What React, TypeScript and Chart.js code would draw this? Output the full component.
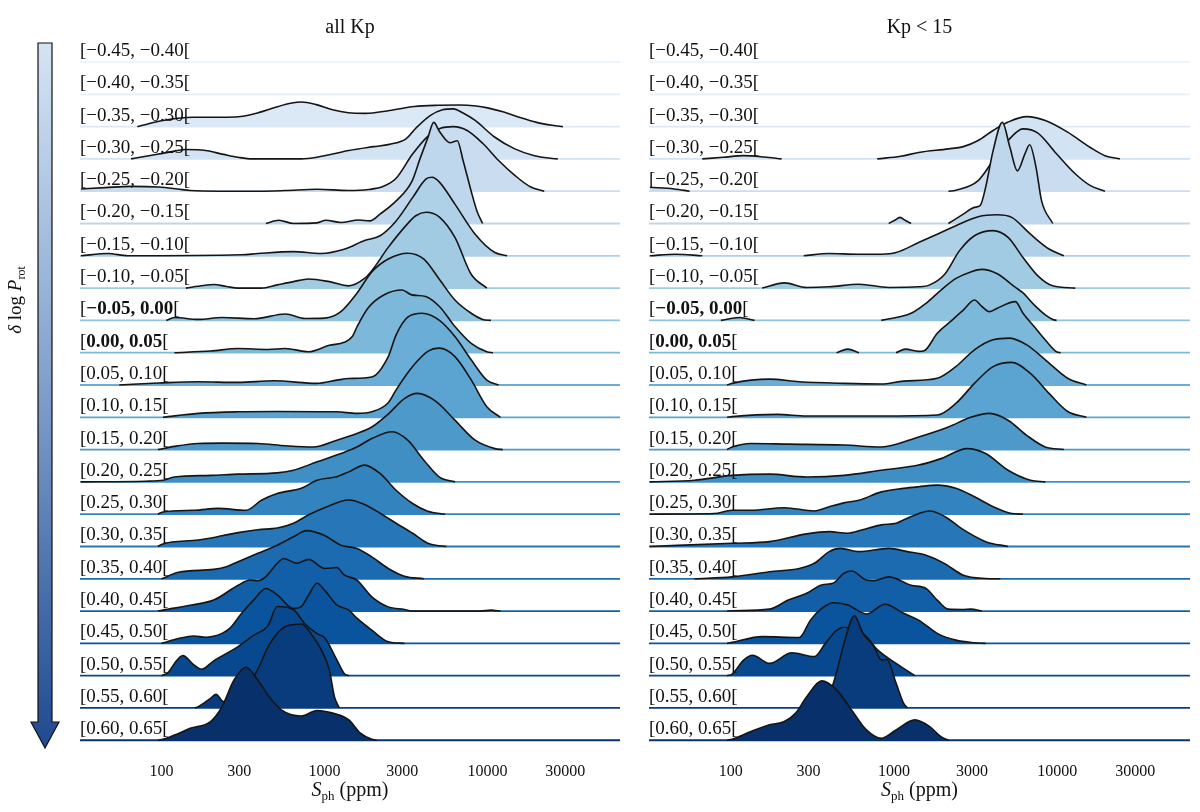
import { useEffect, useRef } from 'react';
import { Chart, registerables } from 'chart.js';

Chart.register(...registerables);

const FONT = '"Liberation Serif", "DejaVu Serif", serif';
const INK = '#111111';

// one row per bin of delta log Prot, top to bottom
const ROW_LABELS = [
  '[−0.45, −0.40[', '[−0.40, −0.35[', '[−0.35, −0.30[', '[−0.30, −0.25[',
  '[−0.25, −0.20[', '[−0.20, −0.15[', '[−0.15, −0.10[', '[−0.10, −0.05[',
  '[−0.05, 0.00[', '[0.00, 0.05[', '[0.05, 0.10[', '[0.10, 0.15[',
  '[0.15, 0.20[', '[0.20, 0.25[', '[0.25, 0.30[', '[0.30, 0.35[',
  '[0.35, 0.40[', '[0.40, 0.45[', '[0.45, 0.50[', '[0.50, 0.55[',
  '[0.55, 0.60[', '[0.60, 0.65[',
];
const BOLD_ROWS = [8, 9];
const X_TICKS = [100, 300, 1000, 3000, 10000, 30000];
const S_MIN = 31.6;
const S_MAX = 65000;

// density curves: [S_ph in ppm, height in row units], null = gap
type Pt = [number, number | null];

const ALL_KP_ROWS: Pt[][] = [
  [],
  [],
  [[71, 0], [79, 0.06], [100, 0.18], [126, 0.26], [158, 0.29], [200, 0.29], [251, 0.29], [316, 0.32], [398, 0.44], [501, 0.6], [631, 0.73], [720, 0.76], [890, 0.68], [1120, 0.52], [1400, 0.43], [1780, 0.41], [2510, 0.5], [3550, 0.62], [5010, 0.66], [6700, 0.67], [8500, 0.64], [10000, 0.58], [12600, 0.45], [15800, 0.28], [20000, 0.13], [25000, 0.04], [29000, 0]],
  [[65, 0], [80, 0.08], [96, 0.15], [120, 0.24], [141, 0.29], [186, 0.26], [240, 0.14], [295, 0.05], [360, 0], [720, 0], [900, 0.05], [1120, 0.15], [1410, 0.26], [2000, 0.38], [2500, 0.45], [3160, 0.62], [3630, 0.95], [4470, 1.35], [5300, 1.52], [6170, 1.55], [7080, 1.42], [8400, 1.19], [11100, 0.67], [14700, 0.31], [19400, 0.1], [24300, 0.02], [27000, 0]],
  [[32, 0.07], [45, 0.11], [65, 0.15], [96, 0.13], [125, 0.07], [150, 0.02], [222, 0], [400, 0], [575, 0.02], [900, 0.06], [1400, 0.02], [1860, 0.05], [2300, 0.15], [2750, 0.4], [3470, 1.15], [4300, 1.7], [5100, 1.94], [6170, 2.0], [7500, 1.88], [9400, 1.47], [11700, 0.95], [14700, 0.49], [18400, 0.13], [22300, 0]],
  [[437, 0], [525, 0.1], [645, 0], [900, 0.02], [1020, 0.1], [1260, 0.03], [1620, 0.11], [1900, 0.08], [2190, 0.29], [2750, 0.7], [3450, 1.32], [3850, 2.0], [4300, 2.65], [4680, 3.13], [5070, 2.85], [5890, 2.5], [6530, 2.56], [7080, 1.95], [7940, 1.0], [8610, 0.39], [9330, 0]],
  [[32, 0], [47, 0.07], [62, 0], [310, 0.03], [390, 0.07], [645, 0.13], [950, 0.07], [1320, 0.2], [1760, 0.47], [2190, 0.62], [2750, 1.08], [3470, 1.8], [4200, 2.38], [4570, 2.43], [5070, 2.28], [6310, 1.6], [8400, 0.67], [11100, 0.1], [13200, 0]],
  [[141, 0], [180, 0.08], [209, 0.11], [250, 0.05], [295, 0], [410, 0], [513, 0.1], [645, 0.2], [800, 0.28], [1070, 0.2], [1410, 0.07], [1760, 0.3], [1950, 0.54], [2460, 1.26], [3090, 1.88], [3630, 2.24], [4200, 2.35], [5070, 2.2], [6310, 1.57], [7940, 0.43], [9900, 0]],
  [[107, 0], [120, 0.09], [168, 0.03], [235, 0.09], [370, 0.05], [575, 0.2], [760, 0.06], [1000, 0.07], [1260, 0.27], [1580, 0.84], [1950, 1.5], [2460, 1.9], [3240, 2.08], [4070, 1.9], [5100, 1.25], [6310, 0.63], [7940, 0.22], [9330, 0.03], [10500, 0]],
  [[120, 0], [200, 0.05], [295, 0.13], [450, 0.1], [575, 0.13], [800, 0.03], [1070, 0.23], [1320, 0.32], [1480, 0.5], [1600, 0.85], [1860, 1.4], [2340, 1.8], [2990, 1.94], [3430, 1.79], [4170, 1.74], [5070, 1.43], [6310, 0.81], [7940, 0.29], [9900, 0.03], [10800, 0]],
  [[55, 0], [96, 0.06], [168, 0.1], [295, 0.08], [490, 0.13], [900, 0.05], [1190, 0.15], [1410, 0.2], [1950, 0.25], [2460, 0.88], [2750, 1.55], [3240, 2.1], [3980, 2.22], [5070, 2.0], [6310, 1.5], [7940, 0.78], [9900, 0.15], [11700, 0]],
  [[102, 0], [168, 0.12], [295, 0.17], [513, 0.18], [1190, 0.17], [1580, 0.12], [1950, 0.17], [2460, 0.45], [2750, 0.85], [3470, 1.57], [4300, 2.04], [5070, 2.14], [6310, 1.88], [7940, 1.16], [9900, 0.33], [12000, 0]],
  [[95, 0], [120, 0.1], [168, 0.19], [235, 0.2], [390, 0.19], [575, 0.12], [850, 0.08], [1190, 0.29], [1580, 0.5], [1950, 0.7], [2460, 1.1], [3090, 1.58], [3720, 1.74], [4800, 1.5], [6310, 0.91], [8400, 0.29], [11100, 0.03], [12400, 0]],
  [[32, 0], [80, 0.02], [102, 0.05], [120, 0.15], [200, 0.2], [295, 0.24], [513, 0.28], [645, 0.36], [900, 0.62], [1260, 0.88], [1580, 1.08], [1950, 1.34], [2600, 1.55], [3240, 1.29], [4070, 0.67], [5070, 0.15], [6310, 0]],
  [[95, 0], [102, 0.07], [160, 0.12], [222, 0.18], [330, 0.12], [410, 0.43], [513, 0.64], [720, 0.8], [900, 1.05], [1190, 1.16], [1410, 1.31], [1760, 1.52], [2190, 1.26], [2750, 0.74], [3470, 0.33], [4300, 0.09], [5500, 0]],
  [[95, 0], [102, 0.08], [168, 0.2], [235, 0.33], [295, 0.43], [390, 0.52], [513, 0.57], [645, 0.72], [800, 0.98], [1000, 1.2], [1410, 1.44], [1760, 1.3], [2190, 1.03], [2750, 0.72], [3470, 0.41], [4300, 0.1], [5070, 0.02], [5600, 0]],
  [[100, 0], [127, 0.2], [209, 0.29], [250, 0.37], [295, 0.53], [390, 0.79], [513, 1.04], [645, 1.3], [775, 1.49], [1000, 1.34], [1260, 1.04], [1580, 0.94], [1950, 0.68], [2460, 0.32], [3090, 0.08], [4070, 0]],
  [[95, 0], [102, 0.03], [150, 0.18], [209, 0.34], [295, 0.8], [350, 0.96], [390, 0.94], [437, 1.07], [513, 1.48], [562, 1.63], [676, 1.48], [800, 1.6], [1000, 1.32], [1190, 1.35], [1320, 1.12], [1580, 0.96], [1950, 0.44], [2460, 0.13], [3090, 0.05], [3470, 0], [9000, 0], [10500, 0.03], [12000, 0]],
  [[100, 0], [127, 0.15], [158, 0.23], [186, 0.19], [235, 0.31], [263, 0.47], [310, 0.93], [367, 1.34], [437, 1.7], [513, 1.5], [645, 1.08], [720, 1.14], [800, 1.5], [900, 1.86], [1000, 1.65], [1190, 1.19], [1410, 1.03], [1580, 0.78], [1950, 0.41], [2460, 0.05], [3090, 0]],
  [[100, 0], [110, 0.1], [120, 0.38], [135, 0.62], [158, 0.33], [176, 0.2], [209, 0.46], [295, 0.9], [367, 1.25], [450, 1.55], [513, 2.14], [645, 2.04], [760, 1.6], [900, 1.3], [1000, 1.18], [1190, 0.49], [1320, 0.07], [1410, 0]],
  [[160, 0], [168, 0.04], [200, 0.3], [216, 0.42], [240, 0.2], [263, 0.22], [330, 0.6], [390, 1.2], [457, 1.95], [575, 2.52], [720, 2.6], [850, 2.21], [955, 1.8], [1070, 1.18], [1150, 0.35], [1230, 0]],
  [[95, 0], [102, 0.03], [120, 0.16], [150, 0.37], [200, 0.58], [235, 1.04], [278, 1.86], [330, 2.26], [390, 1.86], [457, 1.35], [543, 0.94], [720, 0.75], [900, 0.92], [1120, 0.84], [1410, 0.63], [1660, 0.22], [1950, 0.03], [2090, 0]],
];

const KP_LT_15_ROWS: Pt[][] = [
  [],
  [],
  [],
  [[67, 0], [90, 0.05], [120, 0.1], [160, 0.06], [205, 0], [400, null], [790, 0], [1100, 0.08], [1415, 0.2], [2155, 0.31], [2658, 0.38], [3279, 0.57], [4045, 0.88], [4996, 1.14], [6499, 1.31], [8450, 1.19], [11576, 0.83], [15880, 0.36], [19590, 0.1], [24180, 0]],
  [[32, 0.12], [45, 0.07], [56, 0], [300, null], [2155, 0], [2393, 0.03], [3279, 0.33], [4045, 0.95], [4996, 1.57], [6167, 1.93], [7608, 1.8], [9890, 1.16], [12880, 0.54], [15880, 0.18], [19590, 0]],
  [[929, 0], [1010, 0.1], [1088, 0.19], [1170, 0.1], [1273, 0], [1700, null], [2155, 0], [2658, 0.29], [3111, 0.5], [3366, 0.55], [3642, 1.12], [4045, 2.25], [4610, 3.13], [5128, 2.36], [5698, 1.63], [6330, 2.15], [6780, 2.44], [7410, 1.74], [8018, 0.7], [9385, 0]],
  [[32, 0], [46, 0.05], [67, 0], [150, null], [280, 0], [401, 0.07], [600, 0.05], [836, 0.05], [1030, 0.1], [1415, 0.41], [1841, 0.67], [2393, 0.93], [3279, 1.21], [4263, 1.27], [5263, 1.19], [6850, 0.67], [8905, 0.21], [10985, 0]],
  [[156, 0], [213, 0.16], [292, 0.02], [401, 0.04], [610, 0.12], [929, 0.02], [1415, 0.04], [1656, 0.1], [2045, 0.43], [2522, 1.16], [3111, 1.62], [4045, 1.78], [4996, 1.57], [6167, 0.95], [7608, 0.38], [9385, 0.07], [12880, 0]],
  [[87, 0], [113, 0.09], [140, 0], [400, null], [836, 0], [1273, 0.22], [1571, 0.53], [1940, 0.94], [2400, 1.3], [2950, 1.5], [3456, 1.58], [4263, 1.45], [5546, 1.02], [6167, 0.85], [7219, 0.48], [8450, 0.17], [9385, 0.03], [9900, 0]],
  [[445, 0], [521, 0.11], [610, 0], [800, null], [1030, 0], [1177, 0.11], [1415, 0.04], [1531, 0.06], [1841, 0.6], [2271, 1.01], [2658, 1.32], [3111, 1.63], [3456, 1.43], [3838, 1.27], [4263, 1.37], [5546, 1.58], [6167, 1.22], [7219, 0.81], [8450, 0.39], [9890, 0.03], [10500, 0]],
  [[95, 0], [102, 0.05], [173, 0.18], [263, 0.1], [494, 0.05], [836, 0.03], [1146, 0.12], [1841, 0.21], [2393, 0.57], [3111, 1.09], [4045, 1.4], [5128, 1.45], [6499, 1.24], [8450, 0.78], [11576, 0.21], [15070, 0]],
  [[95, 0], [102, 0.02], [192, 0.09], [292, 0.04], [836, 0.04], [1841, 0.07], [2393, 0.43], [3111, 1.05], [4045, 1.57], [5263, 1.7], [6850, 1.36], [8905, 0.74], [11576, 0.18], [15070, 0]],
  [[95, 0], [102, 0.08], [133, 0.19], [225, 0.17], [494, 0.14], [836, 0.08], [1415, 0.39], [2155, 0.7], [2952, 1.0], [3838, 1.12], [4996, 0.91], [6499, 0.44], [8450, 0.08], [10985, 0]],
  [[32, 0], [60, 0.05], [102, 0.2], [173, 0.24], [292, 0.15], [494, 0.2], [836, 0.36], [1415, 0.52], [1940, 0.72], [2801, 1.03], [3642, 0.88], [4996, 0.36], [6850, 0.05], [8450, 0]],
  [[32, 0], [79, 0.02], [102, 0.12], [133, 0.12], [213, 0.2], [325, 0.1], [401, 0.23], [494, 0.35], [610, 0.43], [836, 0.69], [1146, 0.8], [1415, 0.85], [1841, 0.9], [2393, 0.8], [3111, 0.54], [4045, 0.23], [5263, 0.02], [6167, 0]],
  [[32, 0], [102, 0.1], [173, 0.15], [292, 0.39], [401, 0.46], [521, 0.41], [643, 0.52], [836, 0.67], [1030, 0.72], [1273, 0.93], [1656, 1.1], [2045, 0.93], [2658, 0.52], [3642, 0.15], [4996, 0]],
  [[60, 0], [102, 0.06], [173, 0.22], [263, 0.32], [325, 0.48], [401, 0.84], [469, 0.94], [610, 0.84], [929, 0.94], [1208, 0.84], [1571, 0.73], [2045, 0.47], [2658, 0.11], [3642, 0.01], [4480, 0]],
  [[95, 0], [102, 0.01], [173, 0.06], [225, 0.34], [292, 0.55], [361, 0.81], [423, 0.86], [494, 1.17], [550, 1.24], [678, 0.96], [753, 0.94], [929, 1.06], [1273, 0.8], [1571, 0.7], [1841, 0.34], [2155, 0.06], [2658, 0.05], [2952, 0.06], [3456, 0]],
  [[95, 0], [102, 0.03], [156, 0.21], [263, 0.18], [308, 0.72], [361, 1.08], [423, 1.26], [521, 1.19], [678, 0.91], [881, 1.21], [1146, 0.93], [1415, 0.72], [1841, 0.31], [2393, 0.1], [3111, 0.02], [3642, 0]],
  [[95, 0], [102, 0.05], [120, 0.48], [136, 0.63], [173, 0.38], [237, 0.71], [325, 0.59], [380, 1.0], [445, 1.4], [494, 1.5], [660, 1.26], [794, 0.8], [1030, 0.38], [1342, 0]],
  [[380, 0], [445, 1.1], [494, 2.0], [573, 2.85], [643, 2.33], [753, 1.9], [836, 1.49], [905, 1.5], [1030, 0.77], [1146, 0.14], [1208, 0]],
  [[95, 0], [102, 0.03], [133, 0.27], [173, 0.48], [213, 0.58], [250, 0.84], [292, 1.35], [361, 1.84], [445, 1.56], [550, 0.94], [678, 0.32], [836, 0.06], [1030, 0.32], [1342, 0.63], [1656, 0.42], [1940, 0.11], [2155, 0]],
];

const N_ROWS = ROW_LABELS.length;
// layout (px): first baseline, row spacing, title block, x-axis block
const FIRST_BASE = 62;
const ROW_PX = 32.3;
const TITLE_PAD = 16;
const TITLE_H = TITLE_PAD + 24;
const XAXIS_H = 68.5;
const Y_MIN = -0.1;
const Y_MAX = N_ROWS - 1 + (FIRST_BASE - TITLE_H) / ROW_PX;

const LABEL_FONT = 19;

const BLUES = ['#f7fbff', '#deebf7', '#c6dbef', '#9ecae1', '#6baed6', '#4292c6', '#2171b5', '#08519c', '#08306b'];

function hexRgb(h: string) {
  return [1, 3, 5].map(i => parseInt(h.slice(i, i + 2), 16));
}

function rowColor(i: number) {
  const t = 0.05 + 0.95 * (i / (N_ROWS - 1));
  const p = t * 8;
  const k = Math.min(7, Math.floor(p));
  const f = p - k;
  const a = hexRgb(BLUES[k]);
  const b = hexRgb(BLUES[k + 1]);
  const c = a.map((v, j) => Math.round(v + (b[j] - v) * f));
  return `rgb(${c[0]}, ${c[1]}, ${c[2]})`;
}

type Run = { t: string; font: string; dy?: number };

function drawRuns(ctx: CanvasRenderingContext2D, runs: Run[], x: number, y: number, center: boolean) {
  let w = 0;
  runs.forEach(r => { ctx.font = r.font; w += ctx.measureText(r.t).width; });
  let px = center ? x - w / 2 : x;
  runs.forEach(r => {
    ctx.font = r.font;
    ctx.fillText(r.t, px, y + (r.dy || 0));
    px += ctx.measureText(r.t).width;
  });
}

const ridgeDecor = {
  id: 'ridgeDecor',
  afterDatasetsDraw(chart: any) {
    const { ctx, chartArea, scales } = chart;
    const yScale = scales.y;
    ctx.save();
    ctx.fillStyle = INK;
    ctx.textBaseline = 'alphabetic';
    ROW_LABELS.forEach((label, i) => {
      const py = yScale.getPixelForValue(N_ROWS - 1 - i) - 6;
      const runs: Run[] = BOLD_ROWS.includes(i)
        ? [
            { t: '[', font: `${LABEL_FONT}px ${FONT}` },
            { t: label.slice(1, -1), font: `bold ${LABEL_FONT}px ${FONT}` },
            { t: '[', font: `${LABEL_FONT}px ${FONT}` },
          ]
        : [{ t: label, font: `${LABEL_FONT}px ${FONT}` }];
      drawRuns(ctx, runs, chartArea.left, py, false);
    });
    // x axis title
    drawRuns(ctx, [
      { t: 'S', font: `italic 20px ${FONT}` },
      { t: 'ph', font: `13px ${FONT}`, dy: 4 },
      { t: ' (ppm)', font: `20px ${FONT}` },
    ], (chartArea.left + chartArea.right) / 2, 796, true);
    ctx.restore();
  },
  afterDraw(chart: any, _args: any, opts: any) {
    if (!opts || !opts.arrow) return;
    const { ctx } = chart;
    ctx.save();
    const top = 43;
    const neck = 722;
    const tip = 748;
    const grad = ctx.createLinearGradient(0, top, 0, tip);
    grad.addColorStop(0, '#d4e4f4');
    grad.addColorStop(0.5, '#7f9dc9');
    grad.addColorStop(1, '#1f4a8f');
    ctx.beginPath();
    ctx.moveTo(38, top);
    ctx.lineTo(52, top);
    ctx.lineTo(52, neck);
    ctx.lineTo(59, neck);
    ctx.lineTo(45, tip);
    ctx.lineTo(31, neck);
    ctx.lineTo(38, neck);
    ctx.closePath();
    ctx.fillStyle = grad;
    ctx.fill();
    ctx.lineWidth = 1.2;
    ctx.strokeStyle = '#111';
    ctx.stroke();
    // y label
    ctx.translate(21, 300);
    ctx.rotate(-Math.PI / 2);
    ctx.fillStyle = INK;
    ctx.textBaseline = 'alphabetic';
    drawRuns(ctx, [
      { t: 'δ', font: `italic 19px ${FONT}` },
      { t: ' log ', font: `19px ${FONT}` },
      { t: 'P', font: `italic 19px ${FONT}` },
      { t: 'rot', font: `12px ${FONT}`, dy: 4 },
    ], 0, 0, true);
    ctx.restore();
  },
};

function buildDatasets(rows: Pt[][]) {
  const sets: any[] = [];
  rows.forEach((pts, i) => {
    const base = N_ROWS - 1 - i;
    const color = rowColor(i);
    sets.push({
      data: [{ x: S_MIN, y: base }, { x: S_MAX, y: base }],
      borderColor: color,
      borderWidth: 1.8,
      pointRadius: 0,
      fill: false,
      order: 2 * base + 1,
    });
    if (pts.length) {
      sets.push({
        data: pts.map(([s, h]) => ({ x: s, y: h === null ? null : base + h })),
        borderColor: '#151515',
        borderWidth: 1.6,
        backgroundColor: color,
        fill: { value: base },
        cubicInterpolationMode: 'monotone',
        pointRadius: 0,
        spanGaps: false,
        order: 2 * base,
      });
    }
  });
  return sets;
}

interface PanelProps {
  left: number;
  width: number;
  padLeft: number;
  padRight: number;
  title: string;
  rows: Pt[][];
  arrow?: boolean;
}

function RidgePanel({ left, width, padLeft, padRight, title, rows, arrow }: PanelProps) {
  const canvasRef = useRef<HTMLCanvasElement>(null);
  const chartRef = useRef<Chart | null>(null);

  useEffect(() => {
    if (!canvasRef.current) return;
    if (chartRef.current) chartRef.current.destroy();

    chartRef.current = new Chart(canvasRef.current, {
      type: 'line',
      data: { datasets: buildDatasets(rows) },
      plugins: [ridgeDecor],
      options: {
        animation: false,
        responsive: true,
        maintainAspectRatio: false,
        events: [],
        layout: { padding: { left: padLeft, right: padRight, top: 0, bottom: 0 } },
        plugins: {
          legend: { display: false },
          tooltip: { enabled: false },
          title: {
            display: true,
            text: title,
            color: INK,
            font: { family: FONT, size: 20, weight: 'normal' },
            padding: { top: TITLE_PAD, bottom: 0 },
          },
          ridgeDecor: { arrow: !!arrow },
        } as any,
        scales: {
          x: {
            type: 'logarithmic',
            min: S_MIN,
            max: S_MAX,
            grid: { display: false },
            border: { display: false },
            afterBuildTicks: (scale: any) => {
              scale.ticks = X_TICKS.map(v => ({ value: v }));
            },
            afterFit: (scale: any) => {
              scale.height = XAXIS_H;
            },
            ticks: {
              autoSkip: false,
              maxRotation: 0,
              padding: 11,
              color: INK,
              font: { family: FONT, size: 16 },
              callback: (v: any) => String(v),
            },
          },
          y: {
            type: 'linear',
            display: false,
            min: Y_MIN,
            max: Y_MAX,
          },
        },
      } as any,
    });

    return () => {
      if (chartRef.current) {
        chartRef.current.destroy();
        chartRef.current = null;
      }
    };
  }, [padLeft, padRight, title, rows, arrow]);

  return (
    <div style={{ position: 'absolute', left, top: 0, width, height: 812 }}>
      <canvas ref={canvasRef}></canvas>
    </div>
  );
}

export default function App() {
  return (
    <div style={{ position: 'absolute', left: 0, top: 0, width: 1200, height: 812, background: '#fff', overflow: 'hidden' }}>
      <RidgePanel left={0} width={640} padLeft={80} padRight={20} title="all Kp" rows={ALL_KP_ROWS} arrow />
      <RidgePanel left={620} width={580} padLeft={29} padRight={10} title="Kp < 15" rows={KP_LT_15_ROWS} />
    </div>
  );
}
